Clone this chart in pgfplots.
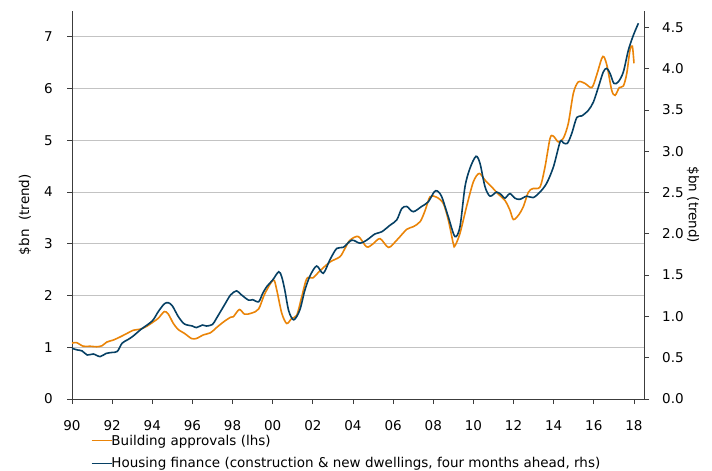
\documentclass[border=0pt]{standalone}
\usepackage{pgfplots}
\pgfplotsset{compat=1.18}
\usepackage{fontspec}
\setmainfont{DejaVu Sans}
\definecolor{ora}{RGB}{234,132,8}
\definecolor{blu}{RGB}{6,64,100}
\definecolor{gridg}{RGB}{195,195,195}
\definecolor{axg}{RGB}{60,60,60}
\pgfplotstableread{
yr v
1990.0 1.08
1990.23 1.09
1990.56 1.02
1990.9 1.02
1991.23 1.01
1991.5 1.03
1991.73 1.10
1992.06 1.14
1992.4 1.20
1992.8 1.28
1993.06 1.33
1993.4 1.35
1993.7 1.40
1994.05 1.49
1994.3 1.56
1994.6 1.69
1994.8 1.64
1995.05 1.46
1995.3 1.34
1995.6 1.27
1995.95 1.17
1996.2 1.17
1996.55 1.24
1996.9 1.28
1997.2 1.38
1997.55 1.49
1997.9 1.58
1998.04 1.59
1998.34 1.73
1998.6 1.64
1998.95 1.66
1999.3 1.74
1999.6 2.03
2000.03 2.30
2000.2 2.11
2000.45 1.66
2000.7 1.46
2000.95 1.56
2001.2 1.62
2001.45 1.98
2001.7 2.33
2002.0 2.34
2002.36 2.48
2002.86 2.65
2003.35 2.75
2003.6 2.91
2003.85 3.07
2004.27 3.14
2004.68 2.94
2005.0 3.00
2005.35 3.10
2005.77 2.93
2006.18 3.07
2006.68 3.28
2007.0 3.33
2007.35 3.43
2007.6 3.65
2007.84 3.91
2008.17 3.90
2008.5 3.78
2008.75 3.46
2009.0 3.00
2009.08 2.96
2009.33 3.20
2009.66 3.72
2010.0 4.20
2010.29 4.36
2010.58 4.23
2010.91 4.10
2011.24 3.96
2011.57 3.84
2011.82 3.65
2011.99 3.47
2012.24 3.55
2012.49 3.72
2012.74 4.00
2012.98 4.07
2013.32 4.10
2013.57 4.49
2013.82 5.04
2013.99 5.08
2014.23 4.97
2014.48 5.04
2014.73 5.33
2014.98 5.91
2015.23 6.13
2015.56 6.10
2015.9 6.02
2016.14 6.26
2016.39 6.58
2016.51 6.61
2016.67 6.42
2016.89 5.97
2017.06 5.87
2017.27 6.02
2017.47 6.05
2017.64 6.29
2017.8 6.74
2017.92 6.82
2018.0 6.49
}\approvals
\pgfplotstableread{
yr v
1990.0 0.614
1990.25 0.595
1990.5 0.583
1990.76 0.533
1991.06 0.545
1991.4 0.514
1991.7 0.552
1992.0 0.564
1992.26 0.577
1992.5 0.677
1992.8 0.721
1993.06 0.765
1993.45 0.846
1994.0 0.946
1994.3 1.059
1994.6 1.153
1994.8 1.166
1995.0 1.128
1995.3 0.997
1995.6 0.909
1996.0 0.884
1996.2 0.865
1996.5 0.896
1996.7 0.884
1997.0 0.903
1997.2 0.978
1997.6 1.141
1997.9 1.260
1998.2 1.310
1998.45 1.260
1998.8 1.197
1999.0 1.203
1999.3 1.178
1999.5 1.279
1999.7 1.360
2000.0 1.442
2000.3 1.542
2000.45 1.479
2000.6 1.323
2000.8 1.066
2001.05 0.959
2001.35 1.078
2001.6 1.316
2001.86 1.492
2002.19 1.611
2002.52 1.523
2002.85 1.686
2003.19 1.824
2003.52 1.837
2003.94 1.924
2004.35 1.887
2004.68 1.924
2005.1 2.000
2005.43 2.025
2005.85 2.106
2006.18 2.169
2006.43 2.307
2006.68 2.332
2007.0 2.269
2007.42 2.332
2007.75 2.388
2008.04 2.507
2008.2 2.520
2008.42 2.451
2008.75 2.206
2009.08 1.968
2009.33 2.087
2009.58 2.570
2009.83 2.796
2010.13 2.940
2010.33 2.852
2010.58 2.570
2010.83 2.457
2011.16 2.507
2011.41 2.470
2011.57 2.432
2011.82 2.488
2012.07 2.432
2012.32 2.419
2012.65 2.457
2012.98 2.440
2013.32 2.507
2013.65 2.614
2013.99 2.814
2014.32 3.115
2014.48 3.103
2014.68 3.096
2014.9 3.216
2015.15 3.410
2015.4 3.429
2015.73 3.498
2015.98 3.598
2016.23 3.780
2016.47 3.961
2016.64 4.005
2016.81 3.943
2017.0 3.823
2017.22 3.842
2017.47 3.961
2017.72 4.225
2017.97 4.406
2018.22 4.551
}\finance
\begin{document}
\begin{tikzpicture}
\useasboundingbox (-72pt,-72pt) rectangle (640pt,399pt);
\pgfplotsset{
  every axis/.append style={
    scale only axis, width=572pt, height=388pt,
    at={(0pt,0pt)}, anchor=south west,
    xmin=1990, xmax=2018.5,
    font=\fontsize{13.5}{16}\selectfont,
    tick label style={font=\fontsize{13.5}{16}\selectfont},
    /pgf/number format/assume math mode=true,
    tick align=outside, major tick length=5pt,
    tick style={axg, line width=0.8pt},
    axis line style={axg, line width=0.9pt, -},
  }
}
\begin{axis}[
  axis y line*=left, axis x line*=bottom,
  ymin=0, ymax=7.5,
  ytick={0,1,...,7},
  xtick={1990,1992,...,2018},
  xticklabels={90,92,94,96,98,00,02,04,06,08,10,12,14,16,18},
  ymajorgrids, grid style={gridg, line width=0.9pt},
  ylabel={\$bn\ \ (trend)},
  ylabel style={at={([xshift=-47pt]axis description cs:0,0.475)}, anchor=center},
  yticklabel style={anchor=east, inner sep=0pt, xshift=-14pt},
  xticklabel style={anchor=north, inner sep=0pt, yshift=-16pt},
]
\addplot[ora, line width=1.6pt, smooth] table[x=yr, y=v] {\approvals};
\end{axis}
\begin{axis}[
  axis y line*=right, axis x line=none,
  ymin=0, ymax=4.7,
  ytick={0,0.5,...,4.5},
  /pgf/number format/fixed, /pgf/number format/fixed zerofill, /pgf/number format/precision=1,
  yticklabel style={anchor=west, inner sep=0pt, xshift=13pt},
  ylabel={\$bn (trend)},
  ylabel style={at={([xshift=49pt]axis description cs:1,0.5)}, anchor=center, rotate=180},
  legend style={at={(0.0326,-0.0866)}, anchor=north west, draw=none, fill=none,
    inner sep=0pt, row sep=7pt, font=\fontsize{13.5}{16}\selectfont,
    legend cell align=left, /tikz/every even column/.append style={column sep=0pt}},
  legend image code/.code={\draw[#1] (0pt,0pt) -- (20pt,0pt);},
]
\addlegendimage{ora, line width=1.6pt}
\addlegendentry{\hspace{-3pt}Building approvals (lhs)}
\addplot[blu, line width=1.6pt, smooth] table[x=yr, y=v] {\finance};
\addlegendentry{\hspace{-3pt}Housing finance (construction \& new dwellings, four months ahead, rhs)}
\end{axis}
\end{tikzpicture}
\end{document}
